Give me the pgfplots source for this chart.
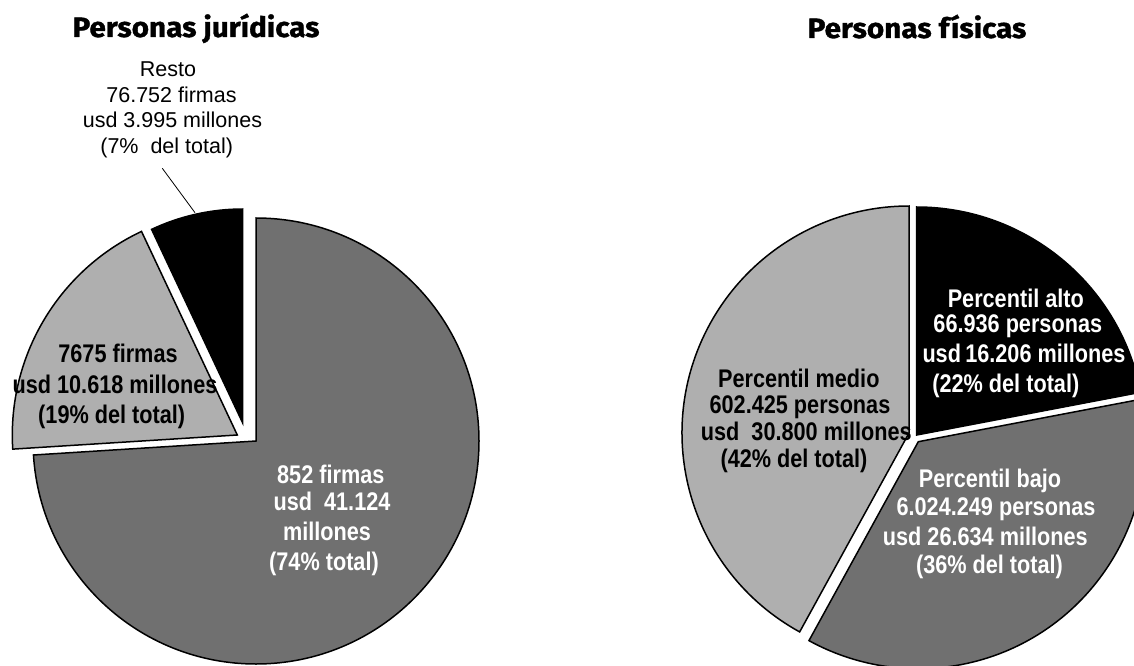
\documentclass[border=0pt]{standalone}
\usepackage{pgfplots}
\pgfplotsset{compat=1.18}
\usepackage{fontspec}
\setmainfont{Liberation Sans}
\newfontfamily\lbl{Liberation Sans}[FakeStretch=0.85]
\newfontfamily\ttl{Fira Sans}[FakeStretch=1.06, FakeBold=1.2]
\definecolor{gdark}{RGB}{112,112,112}
\definecolor{glight}{RGB}{175,175,175}

% #1,#2 apex (axis units = px, y from bottom), #3 radius, #4 start angle,
% #5 share in percent (drawn clockwise), #6 fill
\newcommand{\slice}[6]{%
  \filldraw[fill=#6, draw=black, line width=1.5pt, line join=miter]
    (axis cs:#1,#2) -- +(#4:#3pt)
    arc[start angle=#4, end angle={#4-#5*3.6}, radius=#3pt] -- cycle;}

\begin{document}
\begin{tikzpicture}[
    lb/.style={anchor=base, font=\lbl\bfseries\fontsize{25.5}{30}\selectfont},
    lw/.style={lb, text=white},
    lr/.style={anchor=base, font=\rmfamily\fontsize{21.5}{25}\selectfont},
    tt/.style={anchor=base, font=\ttl\bfseries\fontsize{28}{32}\selectfont},
]
\begin{axis}[
    x=1pt, y=1pt,
    xmin=0, xmax=1134, ymin=0, ymax=665,
    hide axis,
    clip=true,
]
% Personas juridicas
\slice{256}{224}{223}{90}{74}{gdark}
\slice{237.3}{230}{225}{-176.4}{19}{glight}
\slice{242.7}{242}{214}{-244.8}{7}{black}
% Personas fisicas
\slice{916.7}{230}{228}{90}{22}{black}
\slice{918.3}{223.3}{227}{10.8}{36}{gdark}
\slice{909}{232}{227}{-118.8}{42}{glight}

\draw[black, line width=0.8pt] (axis cs:162.3,496.7) -- (axis cs:195,452.3);

\node[tt] at (axis cs:196,628) {Personas jurídicas};
\node[tt] at (axis cs:917,627) {Personas físicas};

\node[lr] at (axis cs:168,588) {Resto};
\node[lr] at (axis cs:171.5,562) {76.752 firmas};
\node[lr] at (axis cs:172.5,537) {usd 3.995 millones};
\node[lr] at (axis cs:166.7,511) {(7\%~ del total)};

\node[lb] at (axis cs:118,303) {7675 firmas};
\node[lb] at (axis cs:115,272) {usd 10.618 millones};
\node[lb] at (axis cs:111.7,242) {(19\% del total)};

\node[lw] at (axis cs:330.8,182) {852 firmas};
\node[lw] at (axis cs:332,155) {usd~~41.124};
\node[lw] at (axis cs:327,125) {millones};
\node[lw] at (axis cs:324,95) {(74\% total)};

\node[lw] at (axis cs:1015.8,358) {Percentil alto};
\node[lw] at (axis cs:1017.8,333) {66.936 personas};
\node[lw] at (axis cs:1024,303) {usd\,16.206 millones};
\node[lw] at (axis cs:1005.8,273) {(22\% del total)};

\node[lb] at (axis cs:798.8,278) {Percentil medio};
\node[lb] at (axis cs:800,252) {602.425 personas};
\node[lb] at (axis cs:806.3,225) {usd~~30.800 millones};
\node[lb] at (axis cs:794,198) {(42\% del total)};

\node[lw] at (axis cs:990,178) {Percentil bajo};
\node[lw] at (axis cs:996,150) {6.024.249 personas};
\node[lw] at (axis cs:985.3,120) {usd 26.634 millones};
\node[lw] at (axis cs:989.5,92) {(36\% del total)};
\end{axis}
\pgfresetboundingbox
\useasboundingbox (current axis.south west) rectangle (current axis.north east);
\end{tikzpicture}
\end{document}
